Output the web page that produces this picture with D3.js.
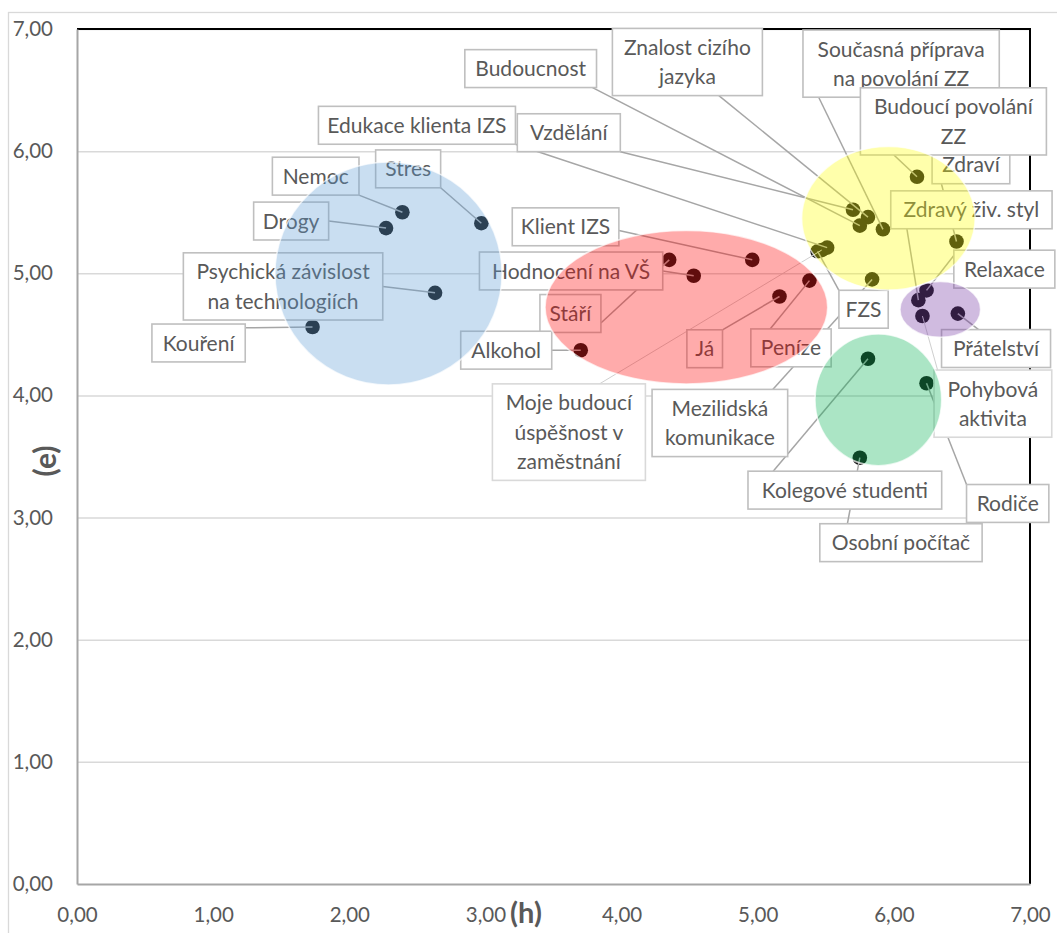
<!DOCTYPE html>
<html>
<head>
<meta charset="utf-8">
<script src="https://cdnjs.cloudflare.com/ajax/libs/d3/7.8.5/d3.min.js"></script>
<style>
  html, body { margin: 0; padding: 0; background: #ffffff; }
  svg { display: block; }
</style>
</head>
<body>
<svg id="chart" width="1057" height="933"></svg>
<script>
// ---- data -------------------------------------------------------------
// Point names ("\n" marks a line break inside the data label)
const categories = [
  "Nemoc", "Drogy", "Stres", "Psychická závislost\nna technologiích", "Kouření",
  "Klient IZS", "Hodnocení na VŠ", "Stáří", "Alkohol", "Já", "Peníze",
  "Moje budoucí\núspěšnost v\nzaměstnání", "Mezilidská\nkomunikace",
  "Kolegové studenti", "Osobní počítač", "Rodiče",
  "Pohybová\naktivita", "Přátelství", "Relaxace", "FZS", "Zdravý živ. styl",
  "Zdraví", "Budoucí povolání\nZZ", "Současná příprava\nna povolání ZZ",
  "Znalost cizího\njazyka", "Budoucnost", "Vzdělání", "Edukace klienta IZS"
];
// horizontal value (h)
const hValues = [
  2.39, 2.27, 2.97, 2.63, 1.73,
  4.96, 4.53, 4.35, 3.70, 5.16, 5.38,
  5.47, 5.84,
  5.81, 5.75, 6.24,
  6.21, 6.47, 6.24, 5.44, 6.18,
  6.46, 6.17, 5.92,
  5.81, 5.75, 5.70, 5.51
];
// vertical value (e)
const eValues = [
  5.50, 5.37, 5.41, 4.84, 4.56,
  5.11, 4.98, 5.11, 4.37, 4.81, 4.94,
  5.19, 4.95,
  4.30, 3.49, 4.10,
  4.65, 4.67, 4.86, 5.18, 4.78,
  5.26, 5.79, 5.36,
  5.46, 5.39, 5.52, 5.21
];
// axis ticks
const xTicks = [0, 1, 2, 3, 4, 5, 6, 7];
const yTicks = [0, 1, 2, 3, 4, 5, 6, 7];

// ---- layout -----------------------------------------------------------
// data-label boxes: offset of the box's top-left corner from its point (px),
// box width (px) and where on the box the leader line starts (fraction of w/h)
const labelLayout = [
  { dx: -130.0, dy: -55.0,  w: 86.6,  fx: 1.00, fy: 1.00 },
  { dx: -132.4, dy: -26.0,  w: 75.0,  fx: 1.00, fy: 0.50 },
  { dx: -105.7, dy: -73.3,  w: 65.0,  fx: 1.00, fy: 1.00 },
  { dx: -251.7, dy: -40.0,  w: 199.4, fx: 1.00, fy: 0.50 },
  { dx: -160.6, dy: -3.0,   w: 93.3,  fx: 1.00, fy: 0.10 },
  { dx: -240.0, dy: -52.0,  w: 106.6, fx: 1.00, fy: 0.60 },
  { dx: -214.3, dy: -23.7,  w: 183.3, fx: 1.00, fy: 0.50 },
  { dx: -129.3, dy: 34.7,   w: 61.0,  fx: 1.00, fy: 0.75 },
  { dx: -120.0, dy: -19.0,  w: 91.0,  fx: 1.00, fy: 0.50 },
  { dx: -92.6,  dy: 33.3,   w: 35.6,  fx: 1.00, fy: 0.00 },
  { dx: -58.6,  dy: 48.3,   w: 80.3,  fx: 0.24, fy: 0.00 },
  { dx: -329.3, dy: 133.8,  w: 153.0, fx: 0.70, fy: 0.00, faint: true },
  { dx: -220.0, dy: 110.0,  w: 135.6, fx: 0.89, fy: 0.00 },
  { dx: -120.0, dy: 112.4,  w: 193.7, fx: 0.13, fy: 0.00 },
  { dx: -40.0,  dy: 66.0,   w: 162.3, fx: 0.17, fy: 0.00 },
  { dx: 40.0,   dy: 101.3,  w: 82.3,  fx: 0.00, fy: 0.00 },
  { dx: 11.6,   dy: 54.0,   w: 117.7, fx: 0.03, fy: 0.00, faint: true },
  { dx: -16.3,  dy: 16.0,   w: 109.0, fx: 0.34, fy: 0.00 },
  { dx: 27.3,   dy: -40.2,  w: 101.0, fx: 0.00, fy: 0.14 },
  { dx: 21.3,   dy: 39.0,   w: 49.3,  fx: 0.00, fy: 0.00 },
  { dx: -27.6,  dy: -109.3, w: 161.3, fx: 0.10, fy: 1.00 },
  { dx: -24.4,  dy: -95.7,  w: 77.7,  fx: 0.12, fy: 1.00 },
  { dx: -56.6,  dy: -89.0,  w: 186.0, fx: 0.18, fy: 1.00 },
  { dx: -80.0,  dy: -199.3, w: 196.3, fx: 0.08, fy: 1.00 },
  { dx: -255.6, dy: -188.7, w: 150.0, fx: 0.71, fy: 1.00 },
  { dx: -395.0, dy: -176.0, w: 131.7, fx: 0.97, fy: 1.00 },
  { dx: -335.7, dy: -96.0,  w: 103.0, fx: 1.00, fy: 1.00 },
  { dx: -508.7, dy: -141.3, w: 197.0, fx: 1.00, fy: 1.00 }
];
// drawing order of the labels (later ones sit on top)
const labelOrder = [0,1,2,3,4,5,6,7,8,9,10,11,12,13,14,15,16,17,18,19,20,21,23,22,24,25,26,27];

// highlighted clusters, in axis units (centre and radii)
const clusters = [
  { cx: 2.288, cy: 4.998, rx: 0.834, ry: 0.913, color: "#5b9bd5" },
  { cx: 4.476, cy: 4.722, rx: 1.038, ry: 0.628, color: "#ff0000" },
  { cx: 5.960, cy: 5.450, rx: 0.637, ry: 0.587, color: "#ffff00" },
  { cx: 6.341, cy: 4.704, rx: 0.296, ry: 0.228, color: "#7030a0" },
  { cx: 5.886, cy: 3.964, rx: 0.465, ry: 0.539, color: "#00b050" }
];

// ---- chart ------------------------------------------------------------
const plot = { left: 77, top: 29, right: 1030, bottom: 884 };
const FONT = "Lato, 'Open Sans', sans-serif";
const TXT = "#595959";

const svg = d3.select("#chart");

const x = d3.scaleLinear().domain([0, 7]).range([plot.left, plot.right]);
const y = d3.scaleLinear().domain([0, 7]).range([plot.bottom, plot.top]);

const locale = d3.formatLocale({ decimal: ",", thousands: " ", grouping: [3], currency: ["", " Kč"] });
const fmt = locale.format(".2f");

// outer chart frame
svg.append("rect")
  .attr("x", 8.5).attr("y", 12.5)
  .attr("width", 1200).attr("height", 1000)
  .attr("fill", "none").attr("stroke", "#d9d9d9").attr("stroke-width", 1.3);

// horizontal gridlines
const grid = svg.append("g")
  .attr("transform", `translate(${plot.left},0)`)
  .call(d3.axisLeft(y).tickValues(yTicks.filter(t => t > 0)).tickSize(-(plot.right - plot.left)).tickFormat(""));
grid.select(".domain").remove();
grid.selectAll("line").attr("stroke", "#d9d9d9").attr("stroke-width", 1.5);

// plot-area border (top and right show black)
svg.append("path")
  .attr("d", `M${plot.left},${plot.top}H${plot.right}V${plot.bottom}`)
  .attr("fill", "none").attr("stroke", "#000").attr("stroke-width", 2);

// axes
const yAxis = svg.append("g")
  .attr("transform", `translate(${plot.left},0)`)
  .call(d3.axisLeft(y).tickValues(yTicks).tickSize(0).tickPadding(24).tickFormat(fmt));
yAxis.select(".domain").attr("stroke", "#a6a6a6").attr("stroke-width", 2);
yAxis.selectAll("text").attr("font-family", FONT).attr("font-size", 20.5).attr("fill", TXT);

const xAxis = svg.append("g")
  .attr("transform", `translate(0,${plot.bottom})`)
  .call(d3.axisBottom(x).tickValues(xTicks).tickSize(0).tickFormat(fmt));
xAxis.select(".domain").attr("stroke", "#a6a6a6").attr("stroke-width", 2);
xAxis.selectAll("text")
  .attr("font-family", FONT).attr("font-size", 20.5).attr("fill", TXT)
  .attr("y", 31).attr("dy", "0.35em");

// axis titles
svg.append("text")
  .attr("x", 526).attr("y", 913).attr("dy", "0.35em")
  .attr("text-anchor", "middle")
  .attr("font-family", FONT).attr("font-weight", 700).attr("font-size", 29)
  .attr("fill", TXT).text("(h)");
svg.append("text")
  .attr("transform", "translate(45,461) rotate(-90)")
  .attr("dy", "0.35em")
  .attr("text-anchor", "middle")
  .attr("font-family", FONT).attr("font-weight", 700).attr("font-size", 30)
  .attr("fill", TXT).text("(e)");

// points
const points = categories.map((name, i) => ({
  name, lines: name.split("\n"), h: hValues[i], e: eValues[i],
  px: x(hValues[i]), py: y(eValues[i]), lay: labelLayout[i]
}));

svg.append("g").selectAll("circle")
  .data(points).join("circle")
  .attr("cx", d => d.px).attr("cy", d => d.py).attr("r", 7.3)
  .attr("fill", "#141414");

// label geometry
const LINE_H = 29.3, PAD_V = 4.3;
points.forEach(d => {
  const L = d.lay;
  d.bx = d.px + L.dx;
  d.by = d.py + L.dy;
  d.bw = L.w;
  d.bh = PAD_V * 2 + LINE_H * d.lines.length;
});

// leader lines
svg.append("g").selectAll("line")
  .data(points).join("line")
  .attr("x1", d => d.bx + d.lay.fx * d.bw)
  .attr("y1", d => d.by + d.lay.fy * d.bh)
  .attr("x2", d => d.px).attr("y2", d => d.py)
  .attr("stroke", d => d.lay.faint ? "#cfcfcf" : "#a6a6a6")
  .attr("stroke-width", d => d.lay.faint ? 1 : 1.5);

// data-label boxes
const lab = svg.append("g").selectAll("g")
  .data(labelOrder.map(i => points[i])).join("g")
  .attr("transform", d => `translate(${d.bx},${d.by})`);
lab.append("rect")
  .attr("x", 0).attr("y", 0)
  .attr("width", d => d.bw).attr("height", d => d.bh)
  .attr("fill", "#ffffff")
  .attr("stroke", d => d.lay.faint ? "#d9d9d9" : "#bfbfbf").attr("stroke-width", 1.6);
lab.append("text")
  .attr("font-family", FONT).attr("font-size", 21).attr("fill", TXT)
  .attr("text-anchor", "middle")
  .selectAll("tspan").data(d => d.lines.map((t, k) => ({ t, k, w: d.bw }))).join("tspan")
  .attr("x", t => t.w / 2)
  .attr("y", t => PAD_V + LINE_H * (t.k + 0.5))
  .attr("dy", "0.36em")
  .text(t => t.t);

// translucent cluster highlights laid over everything in the plot
svg.append("g").selectAll("ellipse")
  .data(clusters).join("ellipse")
  .attr("cx", c => x(c.cx)).attr("cy", c => y(c.cy))
  .attr("rx", c => x(c.rx) - x(0)).attr("ry", c => y(0) - y(c.ry))
  .attr("fill", c => c.color).attr("fill-opacity", 0.33)
  .attr("stroke", "#ffffff").attr("stroke-width", 1.5).attr("stroke-opacity", 0.7);
</script>
</body>
</html>
